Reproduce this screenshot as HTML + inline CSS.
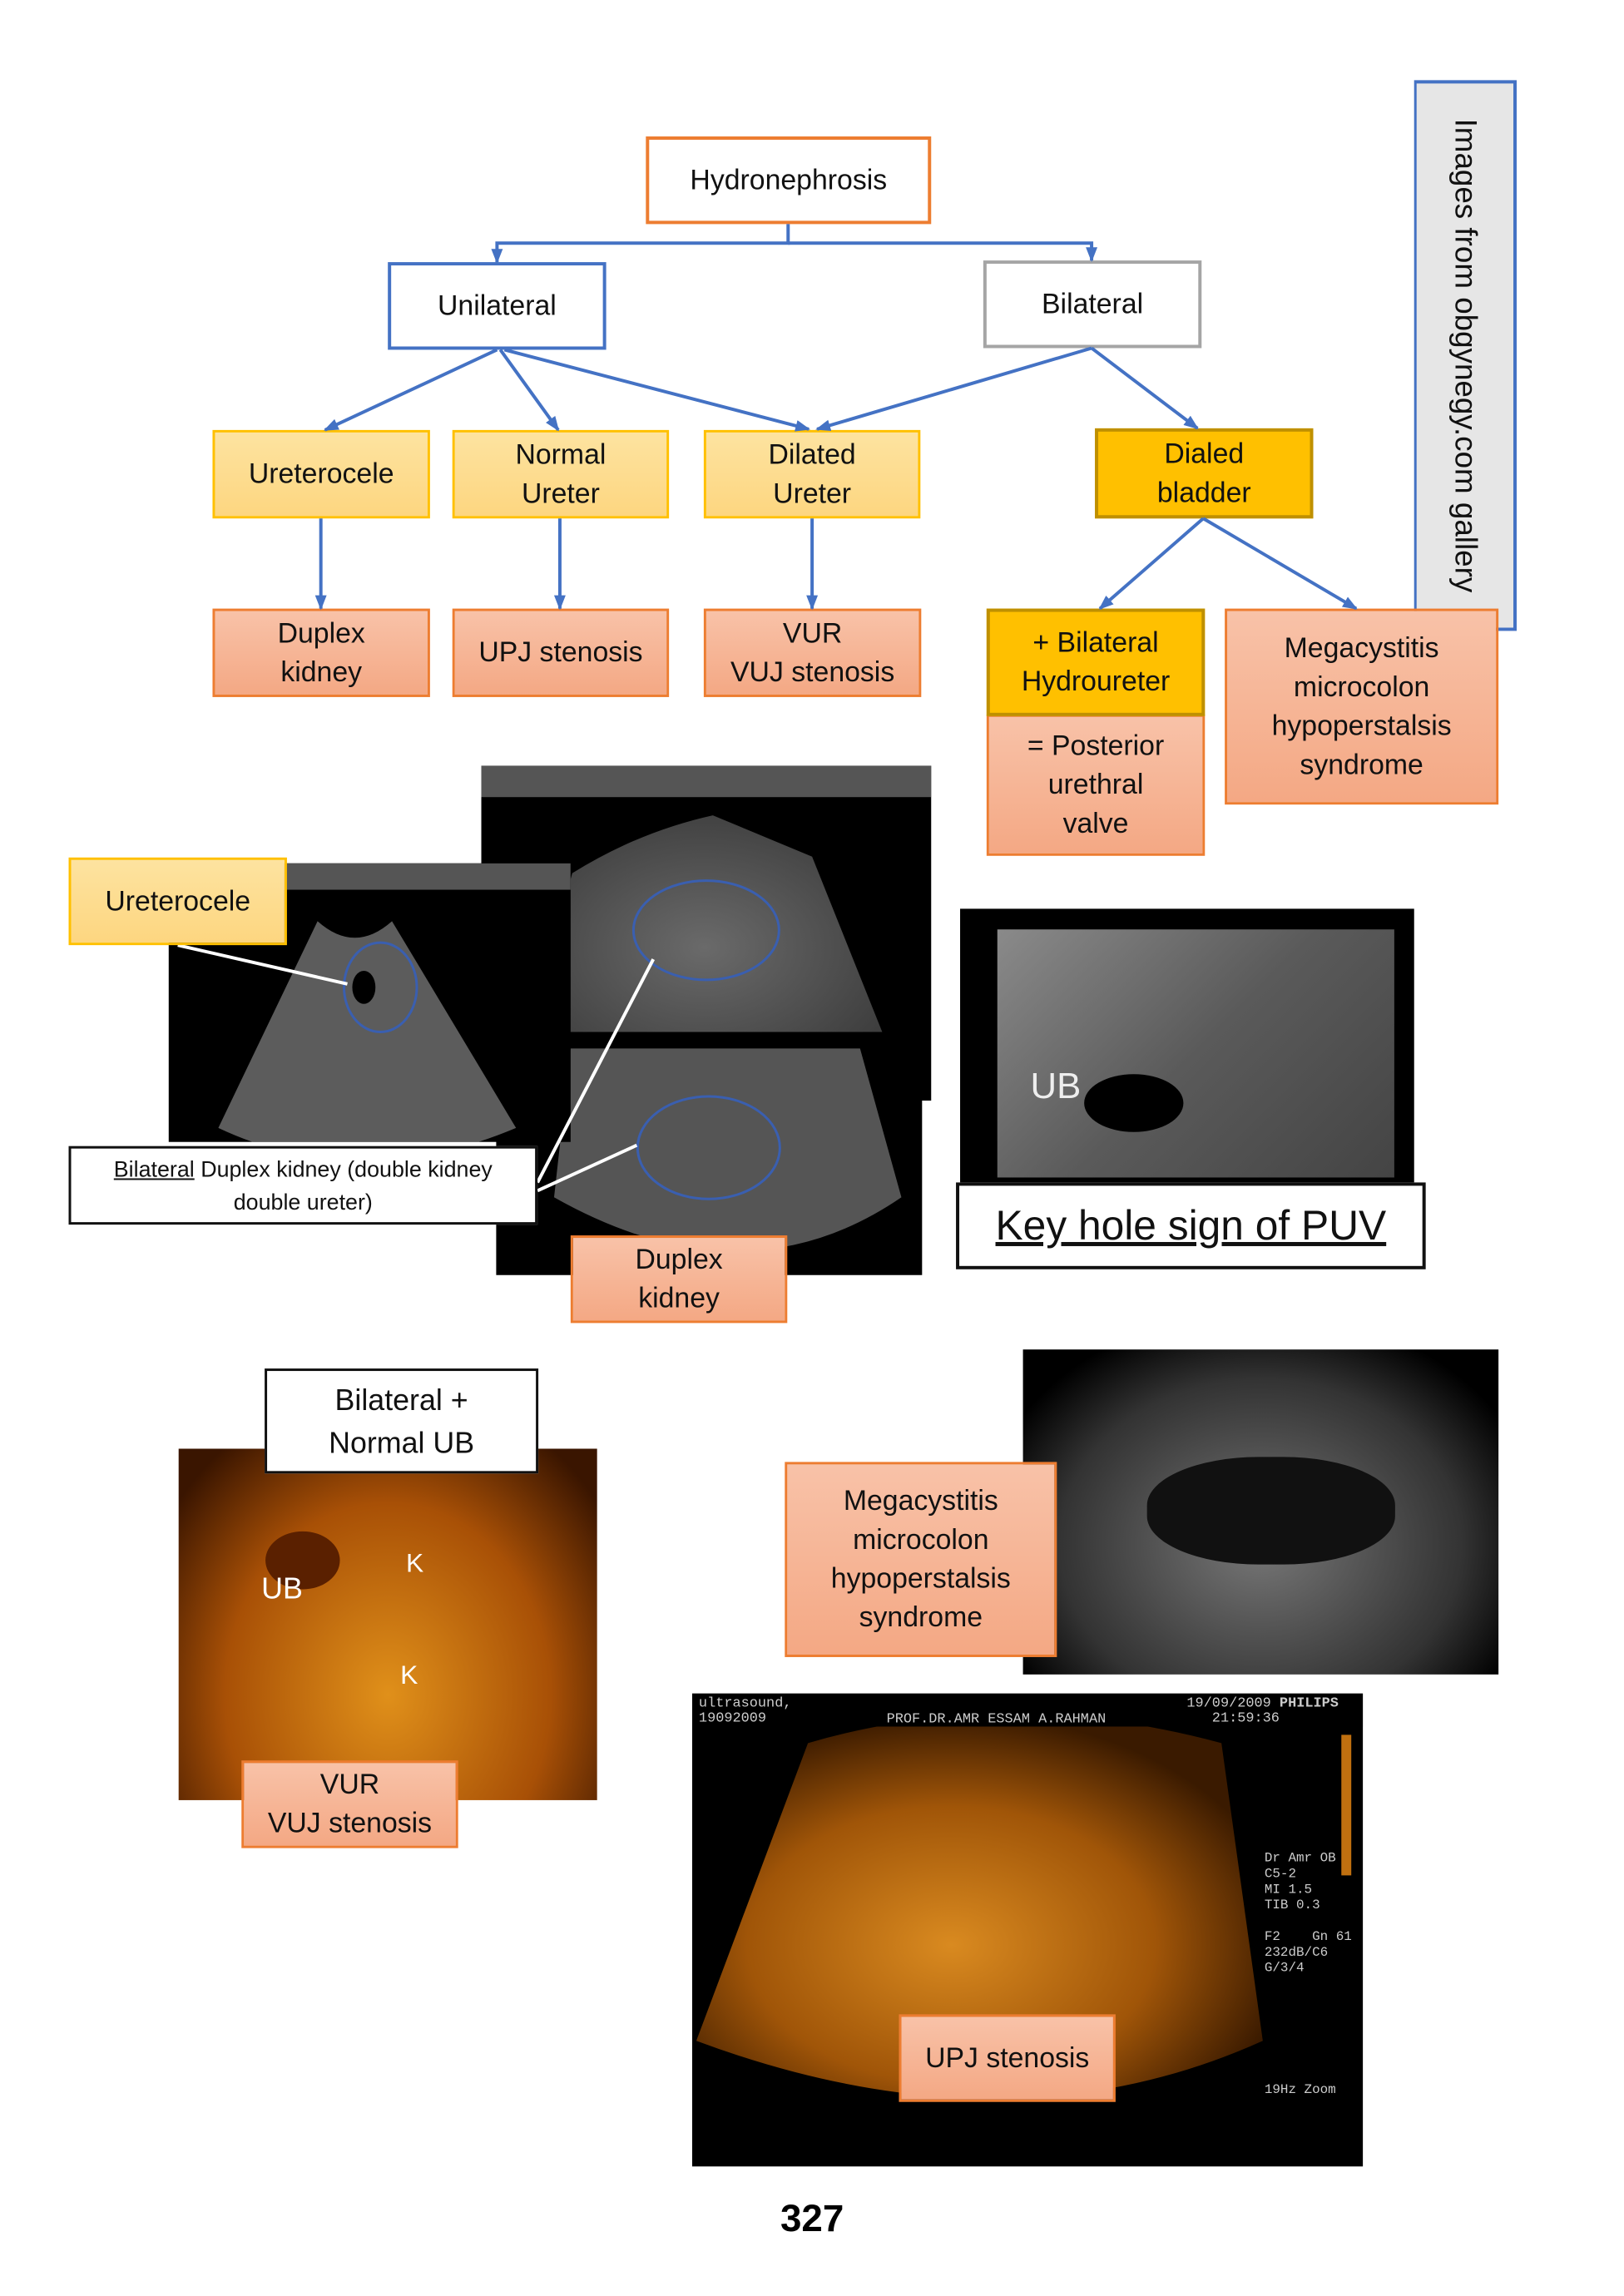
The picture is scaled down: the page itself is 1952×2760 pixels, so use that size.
<!DOCTYPE html>
<html><head><meta charset="utf-8"><style>
html,body{margin:0;padding:0;background:#fff}
body{width:1952px;height:2760px;position:relative;overflow:hidden;font-family:"Liberation Sans",sans-serif}
#wrap{position:absolute;left:0;top:0;width:1952px;height:2760px;transform:scale(0.994);transform-origin:0 0}
.b{position:absolute;box-sizing:border-box;display:flex;align-items:center;justify-content:center;text-align:center;font-size:34px;line-height:47px;color:#111}
.w{background:#fff}
.y{background:linear-gradient(#fde3a0,#fdd680);border:3px solid #ffc000}
.s{background:linear-gradient(#f8c2a8,#f4a884);border:3px solid #ed7d31}
.g{background:#ffc000;border:4px solid #bf9000}
.img{position:absolute;background:#000;overflow:hidden}
svg{position:absolute;left:0;top:0}
</style></head><body><div id="wrap">

<div style="position:absolute;left:1710px;top:97px;width:124px;height:666px;background:#e6e6e6;border:4px solid #4472c4;border-left:3px solid #4472c4;box-sizing:border-box"></div>
<div style="position:absolute;left:1772px;top:430px;width:666px;height:60px;transform:translate(-333px,-30px) rotate(90deg);font-size:37px;line-height:60px;text-align:center;color:#111;white-space:nowrap">Images from obgynegy.com gallery</div>

<div class="b w" style="left:781px;top:165px;width:345px;height:106px;border:4px solid #ed7d31">Hydronephrosis</div>
<div class="b w" style="left:469px;top:317px;width:264px;height:106px;border:4px solid #4472c4">Unilateral</div>
<div class="b w" style="left:1189px;top:315px;width:264px;height:106px;border:4px solid #a5a5a5">Bilateral</div>

<div class="b y" style="left:257px;top:520px;width:263px;height:107px">Ureterocele</div>
<div class="b y" style="left:547px;top:520px;width:262px;height:107px">Normal<br>Ureter</div>
<div class="b y" style="left:851px;top:520px;width:262px;height:107px">Dilated<br>Ureter</div>
<div class="b g" style="left:1324px;top:518px;width:264px;height:109px">Dialed<br>bladder</div>

<div class="b s" style="left:257px;top:736px;width:263px;height:107px">Duplex<br>kidney</div>
<div class="b s" style="left:547px;top:736px;width:262px;height:107px">UPJ stenosis</div>
<div class="b s" style="left:851px;top:736px;width:263px;height:107px">VUR<br>VUJ stenosis</div>
<div class="b s" style="left:1193px;top:864px;width:264px;height:171px">= Posterior<br>urethral<br>valve</div>
<div class="b g" style="left:1193px;top:736px;width:264px;height:130px">+ Bilateral<br>Hydroureter</div>
<div class="b s" style="left:1481px;top:736px;width:331px;height:237px">Megacystitis<br>microcolon<br>hypoperstalsis<br>syndrome</div>

<svg width="1952" height="1100">
<defs><marker id="a" markerWidth="18" markerHeight="18" refX="16" refY="9" orient="auto" markerUnits="userSpaceOnUse"><path d="M0,2L18,9L0,16z" fill="#4472c4"/></marker></defs>
<g stroke="#4472c4" stroke-width="4" fill="none" marker-end="url(#a)">
<path d="M953,271V294H601V317"/>
<path d="M953,294H1320V315"/>
<line x1="601" y1="423" x2="393" y2="520"/>
<line x1="605" y1="423" x2="675" y2="520"/>
<line x1="610" y1="423" x2="978" y2="519"/>
<line x1="1320" y1="421" x2="988" y2="519"/>
<line x1="1320" y1="421" x2="1448" y2="518"/>
<line x1="388" y1="627" x2="388" y2="736"/>
<line x1="677" y1="627" x2="677" y2="736"/>
<line x1="982" y1="627" x2="982" y2="736"/>
<line x1="1455" y1="627" x2="1330" y2="736"/>
<line x1="1455" y1="627" x2="1640" y2="736"/>
</g></svg>

<div class="img" style="left:582px;top:926px;width:544px;height:405px">
 <div style="position:absolute;left:0;top:0;right:0;height:38px;background:#555"></div>
 <svg width="544" height="405"><defs><radialGradient id="gg" cx="50%" cy="50%" r="60%"><stop offset="0" stop-color="#6a6a6a"/><stop offset="1" stop-color="#3a3a3a"/></radialGradient></defs>
 <path d="M110,130Q190,80 280,60L400,110L500,360L40,380z" fill="url(#gg)"/>
 <ellipse cx="272" cy="199" rx="88" ry="60" fill="none" stroke="#3a5fb0" stroke-width="3"/></svg>
</div>
<div class="img" style="left:600px;top:1248px;width:515px;height:294px">
 <svg width="515" height="294"><path d="M90,20L440,20L490,200Q300,330 70,200z" fill="#555"/>
 <ellipse cx="257" cy="140" rx="86" ry="62" fill="none" stroke="#3a5fb0" stroke-width="3"/></svg>
</div>
<div class="img" style="left:204px;top:1044px;width:486px;height:337px">
 <div style="position:absolute;left:0;top:0;right:0;height:32px;background:#555"></div>
 <svg width="486" height="337"><path d="M180,70Q225,110 270,70L420,320Q230,400 60,320z" fill="#5c5c5c"/>
 <ellipse cx="256" cy="150" rx="44" ry="54" fill="none" stroke="#3a5fb0" stroke-width="3"/>
 <ellipse cx="236" cy="150" rx="14" ry="20" fill="#000"/></svg>
</div>
<svg width="1952" height="1600" style="pointer-events:none">
<g stroke="#fff" stroke-width="4"><line x1="215" y1="1143" x2="420" y2="1190"/><line x1="650" y1="1430" x2="790" y2="1160"/><line x1="650" y1="1440" x2="770" y2="1385"/></g>
</svg>
<div class="b y" style="left:83px;top:1037px;width:264px;height:106px">Ureterocele</div>
<div class="b w" style="left:83px;top:1386px;width:567px;height:95px;border:3px solid #111;font-size:27px;line-height:40px"><span><u>Bilateral</u> Duplex kidney (double kidney<br>double ureter)</span></div>
<div class="b s" style="left:690px;top:1494px;width:262px;height:106px">Duplex<br>kidney</div>

<div class="img" style="left:1161px;top:1099px;width:549px;height:331px">
 <div style="position:absolute;left:45px;top:25px;width:480px;height:300px;background:linear-gradient(135deg,#8a8a8a,#5a5a5a 50%,#444)"></div>
 <div style="position:absolute;left:150px;top:200px;width:120px;height:70px;border-radius:50%;background:#000"></div>
 <div style="position:absolute;left:85px;top:190px;color:#eee;font-size:44px">UB</div>
</div>
<div class="b w" style="left:1156px;top:1430px;width:568px;height:105px;border:4px solid #111;font-size:50px"><u>Key hole sign of PUV</u></div>

<div class="img" style="left:216px;top:1752px;width:506px;height:425px;background:radial-gradient(ellipse at 50% 70%,#e0901a,#a85006 55%,#3a1500 90%)">
 <div style="position:absolute;left:105px;top:100px;width:90px;height:70px;border-radius:50%;background:#5a2000"></div>
 <div style="position:absolute;left:100px;top:148px;color:#fff;font-size:36px">UB</div>
 <div style="position:absolute;left:275px;top:120px;color:#fff;font-size:32px">K</div>
 <div style="position:absolute;left:268px;top:255px;color:#fff;font-size:32px">K</div>
</div>
<div class="b w" style="left:320px;top:1655px;width:331px;height:127px;border:3px solid #111;font-size:36px;line-height:52px">Bilateral +<br>Normal UB</div>
<div class="b s" style="left:292px;top:2129px;width:262px;height:106px">VUR<br>VUJ stenosis</div>

<div class="img" style="left:1237px;top:1632px;width:575px;height:393px;background:radial-gradient(ellipse at 50% 60%,#777,#333 60%,#000 85%)">
 <div style="position:absolute;left:150px;top:130px;width:300px;height:130px;border-radius:45%;background:#111"></div>
</div>
<div class="b s" style="left:949px;top:1768px;width:329px;height:236px">Megacystitis<br>microcolon<br>hypoperstalsis<br>syndrome</div>

<div class="img" style="left:837px;top:2048px;width:811px;height:572px">
 <svg width="811" height="572"><defs><radialGradient id="og" cx="45%" cy="60%" r="60%"><stop offset="0" stop-color="#d98a20"/><stop offset="0.6" stop-color="#a05508"/><stop offset="1" stop-color="#3a1a00"/></radialGradient></defs>
 <path d="M140,60Q380,-10 640,60L690,420Q380,560 5,420z" fill="url(#og)"/>
 <rect x="785" y="50" width="12" height="170" fill="#c07010"/></svg>
 <div style="position:absolute;left:0;top:0;right:0;height:40px;background:#000"></div>
 <div style="position:absolute;left:8px;top:4px;color:#ccc;font:17px 'Liberation Mono',monospace;line-height:18px">ultrasound,<br>19092009</div>
 <div style="position:absolute;left:235px;top:22px;color:#ccc;font:17px 'Liberation Mono',monospace">PROF.DR.AMR ESSAM  A.RAHMAN</div>
 <div style="position:absolute;left:598px;top:4px;color:#ccc;font:17px 'Liberation Mono',monospace;line-height:18px">19/09/2009 <b>PHILIPS</b><br>&nbsp;&nbsp;&nbsp;21:59:36</div>
 <div style="position:absolute;left:692px;top:190px;color:#ccc;font:16px 'Liberation Mono',monospace;line-height:19px">Dr Amr OB<br>C5-2<br>MI 1.5<br>TIB 0.3<br><br>F2&nbsp;&nbsp;&nbsp;&nbsp;Gn 61<br>232dB/C6<br>G/3/4</div>
 <div style="position:absolute;left:692px;top:470px;color:#ccc;font:16px 'Liberation Mono',monospace">19Hz  Zoom</div>
</div>
<div class="b s" style="left:1087px;top:2436px;width:262px;height:106px">UPJ stenosis</div>

<div style="position:absolute;left:900px;top:2655px;width:164px;text-align:center;font-weight:bold;font-size:46px">327</div>
</div></body></html>
